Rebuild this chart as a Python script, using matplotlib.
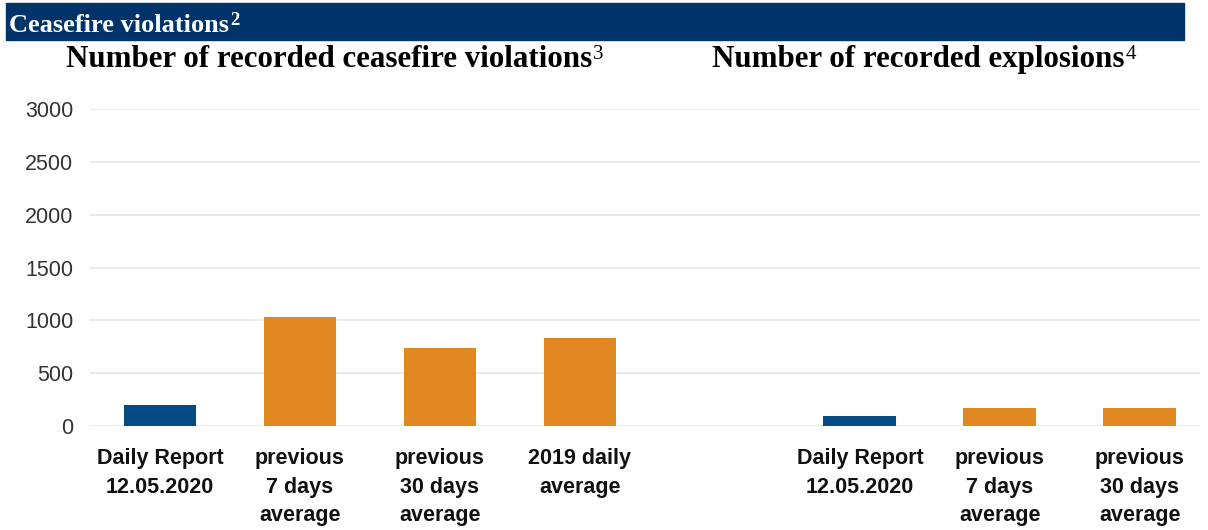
import numpy as np
import matplotlib
matplotlib.use("Agg")
import matplotlib.pyplot as plt
from matplotlib.patches import Rectangle

# data
cf_labels = ["Daily Report\n12.05.2020", "previous\n7 days\naverage",
             "previous\n30 days\naverage", "2019 daily\naverage"]
cf_values = [200, 1035, 735, 830]
cf_colors = ["#064a85", "#e08722", "#e08722", "#e08722"]

ex_labels = ["Daily Report\n12.05.2020", "previous\n7 days\naverage",
             "previous\n30 days\naverage"]
ex_values = [90, 175, 175]
ex_colors = ["#064a85", "#e08722", "#e08722"]

yticks = [0, 500, 1000, 1500, 2000, 2500, 3000]

W, H = 1208, 530
fig = plt.figure(figsize=(W / 100, H / 100), dpi=100)
serif = "Liberation Serif"


def sup_after(t, text, rise_px, **kw):
    # small footnote mark right after a text, baseline raised by rise_px
    fig.canvas.draw()
    bb = t.get_window_extent()
    base = t.get_position()[1] * H
    fig.text((bb.x1 + 1) / W, (base + rise_px) / H, text, family=serif,
             va="baseline", ha="left", **kw)


# header band
fig.patches.append(Rectangle((6 / W, 1 - 40 / H), 1178 / W, 37 / H,
                             transform=fig.transFigure, color="#00336a", zorder=0))
hdr = fig.text(9 / W, 1 - 32 / H, "Ceasefire violations", color="white",
               family=serif, weight="bold", fontsize=19, va="baseline")
sup_after(hdr, "2", 7, color="white", weight="bold", fontsize=13.5)

ax = fig.add_axes([90 / W, (H - 426) / H, 1110 / W, 317 / H])

# one shared axis, a gap slot between the two charts
x_cf = np.arange(len(cf_values))
x_ex = np.arange(len(ex_values)) + len(cf_values) + 1

ax.bar(x_cf, cf_values, width=0.52, color=cf_colors, zorder=3)
ax.bar(x_ex, ex_values, width=0.52, color=ex_colors, zorder=3)

ax.set_xlim(-0.5, 7.43)
ax.set_ylim(0, 3000)
ax.set_yticks(yticks)
ax.set_yticklabels([str(v) for v in yticks], family="Liberation Sans",
                   fontsize=15.5, color="#333333")
ax.set_xticks(list(x_cf) + list(x_ex))
ax.set_xticklabels(cf_labels + ex_labels, family="Liberation Sans",
                   weight="bold", fontsize=15.5, color="#111111", linespacing=1.46)
ax.tick_params(axis="both", length=0)
ax.tick_params(axis="y", pad=12)
ax.tick_params(axis="x", pad=16)
ax.grid(axis="y", color="#e6e6e6", linewidth=1.2, zorder=0)
for s in ax.spines.values():
    s.set_visible(False)

# chart titles with superscript footnote marks
t1 = fig.text(329 / W, 1 - 67 / H, "Number of recorded ceasefire violations",
              family=serif, weight="bold", fontsize=22.3, ha="center", va="baseline")
sup_after(t1, "3", 8, fontsize=15)
t2 = fig.text(918 / W, 1 - 67 / H, "Number of recorded explosions",
              family=serif, weight="bold", fontsize=22.3, ha="center", va="baseline")
sup_after(t2, "4", 8, fontsize=15)

fig.savefig("out.png", dpi=100)
